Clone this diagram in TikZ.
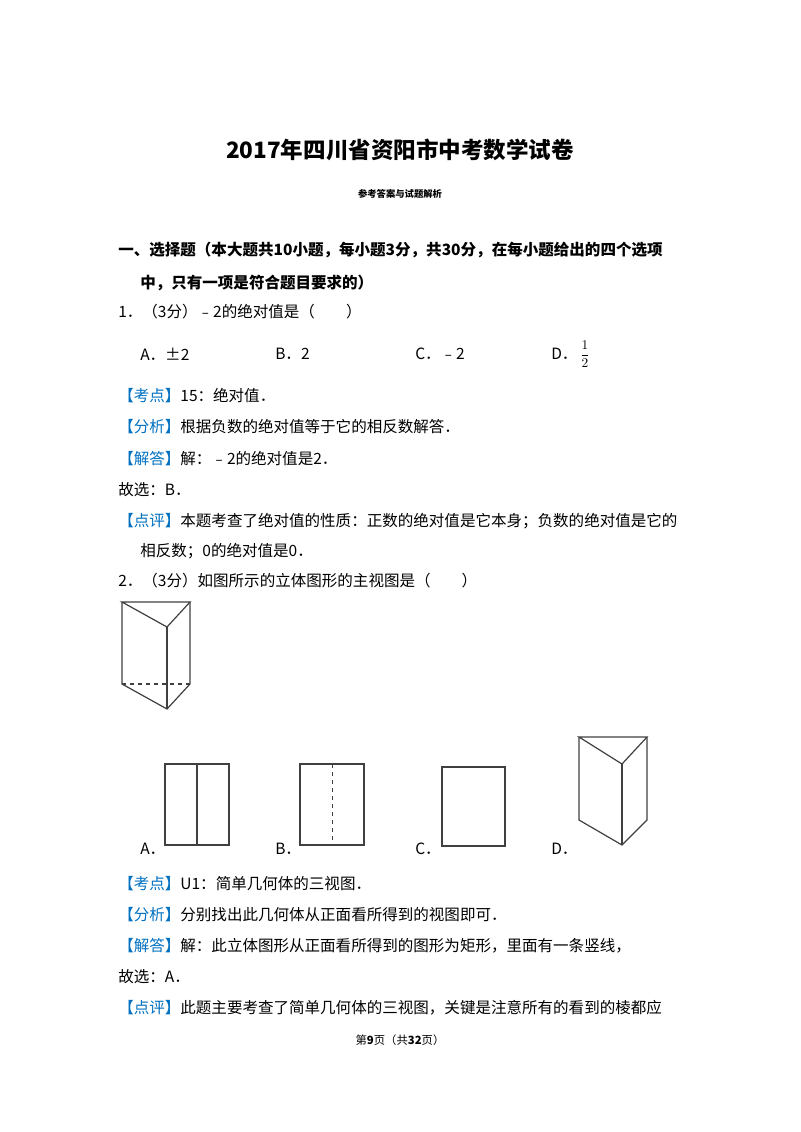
\documentclass[tikz,border=0pt]{standalone}
\usepackage{fontspec}
\setmainfont{Noto Sans CJK SC}
\begin{document}
\begin{tikzpicture}[x=0.75pt,y=-0.75pt,
  t/.style={anchor=west,inner sep=0pt,font=\fontsize{11.65}{13}\selectfont},
  fig/.style={line width=0.9pt,draw=black!75}]
\useasboundingbox (0,0) rectangle (800,1132);
\newcommand\bk[1]{\textcolor[RGB]{0,112,192}{【#1】}}
\node[inner sep=0pt,font=\fontsize{16.9}{20}\bfseries\selectfont] (title) at (400,150) {2017年四川省资阳市中考数学试卷};
\node[inner sep=0pt,font=\fontsize{7}{9}\bfseries\selectfont] (sub) at (400,194) {参考答案与试题解析};
\node[t,font=\fontsize{11.65}{13}\bfseries\selectfont] (h1) at (118,250) {一、选择题（本大题共10小题，每小题3分，共30分，在每小题给出的四个选项};
\node[t,font=\fontsize{11.65}{13}\bfseries\selectfont] (h2) at (140,283) {中，只有一项是符合题目要求的）};
\node[t] (q1) at (118,312) {1．（3分）﹣2的绝对值是（　　）};
\node[t] (a1) at (140,354) {A．±2};
\node[t] (b1) at (275,354) {B．2};
\node[t] (c1) at (415,354) {C．﹣2};
\node[t] (d1) at (551,354) {D．};
\node[inner sep=0pt,font=\fontsize{10}{10}\selectfont] (fr) at (585,354) {$\displaystyle\frac{1}{2}$};
\node[t] (k1) at (118,396) {\bk{考点}15：绝对值．};
\node[t] (f1) at (118,427) {\bk{分析}根据负数的绝对值等于它的相反数解答．};
\node[t] (j1) at (118,459) {\bk{解答}解：﹣2的绝对值是2．};
\node[t] (g1) at (118,490) {故选：B．};
\node[t] (p1) at (118,521) {\bk{点评}本题考查了绝对值的性质：正数的绝对值是它本身；负数的绝对值是它的};
\node[t] (p1b) at (140,551) {相反数；0的绝对值是0．};
\node[t] (q2) at (118,581) {2．（3分）如图所示的立体图形的主视图是（　　）};
% prism
\draw[fig] (122,602) -- (190,602) -- (167,627) -- cycle;
\draw[fig] (122,602) -- (122,684) -- (167,709) -- (190,684) -- (190,602);
\draw[fig] (167,627) -- (167,709);
\draw[fig,dashed] (122,684) -- (190,684);
% options
\draw[fig] (165,764) rectangle (229,845);
\draw[fig] (197,764) -- (197,845);
\draw[fig] (300,764) rectangle (364,845);
\draw[fig,dashed,line width=0.7pt] (332,764) -- (332,845);
\draw[fig] (442,767) rectangle (505,846);
\draw[fig] (579,737) -- (647,737) -- (622,764) -- cycle;
\draw[fig] (579,737) -- (579,820) -- (622,845) -- (647,820) -- (647,737);
\draw[fig] (622,764) -- (622,845);
\node[t] (a2) at (140,849) {A．};
\node[t] (b2) at (275,849) {B．};
\node[t] (c2) at (415,849) {C．};
\node[t] (d2) at (551,849) {D．};
\node[t] (k2) at (118,884) {\bk{考点}U1：简单几何体的三视图．};
\node[t] (f2) at (118,915) {\bk{分析}分别找出此几何体从正面看所得到的视图即可．};
\node[t] (j2) at (118,946) {\bk{解答}解：此立体图形从正面看所得到的图形为矩形，里面有一条竖线，};
\node[t] (g2) at (118,977) {故选：A．};
\node[t] (p2) at (118,1008) {\bk{点评}此题主要考查了简单几何体的三视图，关键是注意所有的看到的棱都应};
\node[inner sep=0pt,font=\fontsize{8.5}{10}\selectfont] (foot) at (400,1040) {第\textbf{9}页（共\textbf{32}页）};
\end{tikzpicture}
\end{document}
